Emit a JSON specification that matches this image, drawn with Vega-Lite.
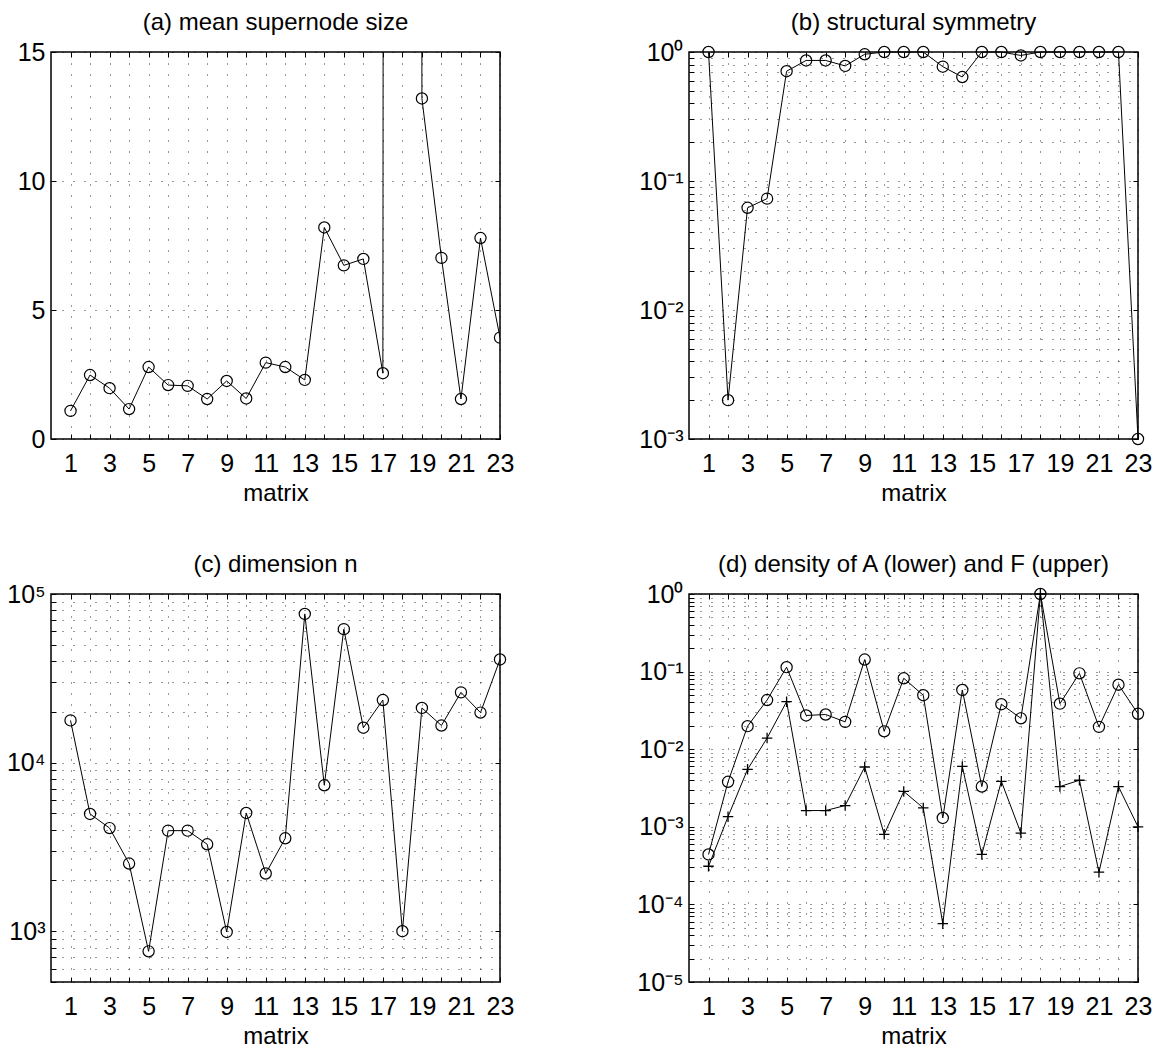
{
  "$schema": "https://vega.github.io/schema/vega-lite/v6.json",
  "background": "white",
  "padding": {"left": 5, "top": 10, "right": 0, "bottom": 0},
  "bounds": "flush",
  "columns": 2,
  "spacing": {"row": 155, "column": 189},
  "config": {
    "font": "Liberation Sans",
    "view": {"stroke": "black", "strokeWidth": 1.5},
    "title": {"fontSize": 24, "fontWeight": "normal", "color": "black", "offset": 5, "font": "Liberation Sans"},
    "axis": {
      "domain": false,
      "labelFont": "Liberation Sans",
      "labelFontSize": 25,
      "labelColor": "black",
      "titleFont": "Liberation Sans",
      "titleFontSize": 24,
      "titleFontWeight": "normal",
      "titleColor": "black",
      "grid": true,
      "gridColor": "black",
      "gridDash": [1, 10],
      "gridWidth": 1,
      "gridOpacity": 0.8,
      "tickColor": "black",
      "tickSize": -5,
      "tickWidth": 1,
      "labelFlush": false,
      "labelOverlap": false,
      "labelBound": false
    },
    "axisX": {"labelPadding": 17, "titlePadding": 5},
    "axisY": {"labelPadding": 11}
  },
  "datasets": {
    "m": [
      {"matrix": 1, "sn": 1.09, "sym": 1.0, "n": 17800, "dF": 0.00044, "dA": 0.00031},
      {"matrix": 2, "sn": 2.48, "sym": 0.002, "n": 4960, "dF": 0.0038, "dA": 0.00135},
      {"matrix": 3, "sn": 1.97, "sym": 0.062, "n": 4090, "dF": 0.0198, "dA": 0.0055},
      {"matrix": 4, "sn": 1.16, "sym": 0.073, "n": 2520, "dF": 0.043, "dA": 0.0139},
      {"matrix": 5, "sn": 2.79, "sym": 0.71, "n": 760, "dF": 0.114, "dA": 0.041},
      {"matrix": 6, "sn": 2.09, "sym": 0.86, "n": 3950, "dF": 0.0272, "dA": 0.00162},
      {"matrix": 7, "sn": 2.06, "sym": 0.86, "n": 3950, "dF": 0.028, "dA": 0.00162},
      {"matrix": 8, "sn": 1.55, "sym": 0.78, "n": 3280, "dF": 0.0225, "dA": 0.00188},
      {"matrix": 9, "sn": 2.25, "sym": 0.96, "n": 990, "dF": 0.143, "dA": 0.0059},
      {"matrix": 10, "sn": 1.57, "sym": 1.0, "n": 5030, "dF": 0.017, "dA": 0.0008},
      {"matrix": 11, "sn": 2.96, "sym": 1.0, "n": 2200, "dF": 0.082, "dA": 0.00286},
      {"matrix": 12, "sn": 2.79, "sym": 1.0, "n": 3560, "dF": 0.0496, "dA": 0.00175},
      {"matrix": 13, "sn": 2.29, "sym": 0.77, "n": 76200, "dF": 0.0013, "dA": 0.0000565},
      {"matrix": 14, "sn": 8.2, "sym": 0.64, "n": 7340, "dF": 0.058, "dA": 0.006},
      {"matrix": 15, "sn": 6.73, "sym": 1.0, "n": 61900, "dF": 0.0033, "dA": 0.00044},
      {"matrix": 16, "sn": 6.98, "sym": 1.0, "n": 16100, "dF": 0.038, "dA": 0.00386},
      {"matrix": 17, "sn": 2.55, "sym": 0.94, "n": 23500, "dF": 0.025, "dA": 0.00083},
      {"matrix": 18, "sn": 1000, "sym": 1.0, "n": 1000, "dF": 1.0, "dA": 1.0},
      {"matrix": 19, "sn": 13.2, "sym": 1.0, "n": 21100, "dF": 0.0386, "dA": 0.0033},
      {"matrix": 20, "sn": 7.02, "sym": 1.0, "n": 16600, "dF": 0.095, "dA": 0.00398},
      {"matrix": 21, "sn": 1.55, "sym": 1.0, "n": 26100, "dF": 0.0194, "dA": 0.00026},
      {"matrix": 22, "sn": 7.79, "sym": 1.0, "n": 19800, "dF": 0.0677, "dA": 0.0033},
      {"matrix": 23, "sn": 3.93, "sym": 0.001, "n": 40900, "dF": 0.0286, "dA": 0.001}
    ]
  },
  "concat": [
    {
      "width": 449, "height": 387,
      "title": "(a) mean supernode size",
      "data": {"name": "m"},
      "layer": [
        {
          "encoding": {
            "x": {"field": "matrix", "type": "quantitative",
                  "scale": {"domain": [0, 23], "nice": false, "zero": false},
                  "axis": {"orient": "bottom", "values": [1,2,3,4,5,6,7,8,9,10,11,12,13,14,15,16,17,18,19,20,21,22,23], "labelExpr": "datum.value % 2 == 1 ? datum.label : ''", "title": "matrix"}},
            "y": {"field": "sn", "type": "quantitative",
                  "scale": {"domain": [0, 15], "nice": false},
                  "axis": {"orient": "left", "values": [0, 5, 10, 15], "title": null}}
          },
          "layer": [
            {"mark": {"type": "line", "color": "black", "strokeWidth": 1, "clip": true}},
            {"mark": {"type": "point", "shape": "circle", "filled": false, "color": "black", "size": 125, "strokeWidth": 1.2, "opacity": 1, "clip": true}}
          ]
        },
        {
          "mark": {"type": "point", "opacity": 0, "clip": true},
          "encoding": {
            "x": {"field": "matrix", "type": "quantitative",
                  "axis": {"orient": "top", "values": [1,2,3,4,5,6,7,8,9,10,11,12,13,14,15,16,17,18,19,20,21,22,23], "labels": false, "grid": false, "title": null}},
            "y": {"field": "sn", "type": "quantitative",
                  "axis": {"orient": "right", "values": [0, 5, 10, 15], "labels": false, "grid": false, "title": null}}
          }
        }
      ],
      "resolve": {"axis": {"x": "independent", "y": "independent"}}
    },
    {
      "width": 449, "height": 387,
      "title": "(b) structural symmetry",
      "data": {"name": "m"},
      "layer": [
        {
          "encoding": {
            "x": {"field": "matrix", "type": "quantitative",
                  "scale": {"domain": [0, 23], "nice": false, "zero": false},
                  "axis": {"orient": "bottom", "values": [1,2,3,4,5,6,7,8,9,10,11,12,13,14,15,16,17,18,19,20,21,22,23], "labelExpr": "datum.value % 2 == 1 ? datum.label : ''", "title": "matrix"}},
            "y": {"field": "sym", "type": "quantitative",
                  "scale": {"type": "log", "domain": [0.001, 1], "nice": false},
                  "axis": {"orient": "left", "values": [0.001,0.002,0.003,0.004,0.005,0.006,0.007,0.008,0.009,0.01,0.02,0.03,0.04,0.05,0.06,0.07,0.08,0.09,0.1,0.2,0.3,0.4,0.5,0.6,0.7,0.8,0.9,1],
                           "labelExpr": "datum.value == 1 ? '10⁰' : datum.value == 0.1 ? '10⁻¹' : datum.value == 0.01 ? '10⁻²' : datum.value == 0.001 ? '10⁻³' : ''", "title": null}}
          },
          "layer": [
            {"mark": {"type": "line", "color": "black", "strokeWidth": 1}},
            {"mark": {"type": "point", "shape": "circle", "filled": false, "color": "black", "size": 125, "strokeWidth": 1.2, "opacity": 1}}
          ]
        },
        {
          "mark": {"type": "point", "opacity": 0},
          "encoding": {
            "x": {"field": "matrix", "type": "quantitative",
                  "axis": {"orient": "top", "values": [1,2,3,4,5,6,7,8,9,10,11,12,13,14,15,16,17,18,19,20,21,22,23], "labels": false, "grid": false, "title": null}},
            "y": {"field": "sym", "type": "quantitative",
                  "axis": {"orient": "right", "values": [0.001,0.01,0.1,1], "labels": false, "grid": false, "title": null}}
          }
        }
      ],
      "resolve": {"axis": {"x": "independent", "y": "independent"}}
    },
    {
      "width": 449, "height": 388,
      "title": "(c) dimension n",
      "data": {"name": "m"},
      "layer": [
        {
          "encoding": {
            "x": {"field": "matrix", "type": "quantitative",
                  "scale": {"domain": [0, 23], "nice": false, "zero": false},
                  "axis": {"orient": "bottom", "values": [1,2,3,4,5,6,7,8,9,10,11,12,13,14,15,16,17,18,19,20,21,22,23], "labelExpr": "datum.value % 2 == 1 ? datum.label : ''", "title": "matrix"}},
            "y": {"field": "n", "type": "quantitative",
                  "scale": {"type": "log", "domain": [500, 100000], "nice": false},
                  "axis": {"orient": "left", "values": [500,600,700,800,900,1000,2000,3000,4000,5000,6000,7000,8000,9000,10000,20000,30000,40000,50000,60000,70000,80000,90000,100000],
                           "labelExpr": "datum.value == 1000 ? '10³' : datum.value == 10000 ? '10⁴' : datum.value == 100000 ? '10⁵' : ''", "title": null}}
          },
          "layer": [
            {"mark": {"type": "line", "color": "black", "strokeWidth": 1}},
            {"mark": {"type": "point", "shape": "circle", "filled": false, "color": "black", "size": 125, "strokeWidth": 1.2, "opacity": 1}}
          ]
        },
        {
          "mark": {"type": "point", "opacity": 0},
          "encoding": {
            "x": {"field": "matrix", "type": "quantitative",
                  "axis": {"orient": "top", "values": [1,2,3,4,5,6,7,8,9,10,11,12,13,14,15,16,17,18,19,20,21,22,23], "labels": false, "grid": false, "title": null}},
            "y": {"field": "n", "type": "quantitative",
                  "axis": {"orient": "right", "values": [1000,10000,100000], "labels": false, "grid": false, "title": null}}
          }
        }
      ],
      "resolve": {"axis": {"x": "independent", "y": "independent"}}
    },
    {
      "width": 449, "height": 388,
      "title": "(d) density of A (lower) and F (upper)",
      "data": {"name": "m"},
      "layer": [
        {
          "encoding": {
            "x": {"field": "matrix", "type": "quantitative",
                  "scale": {"domain": [0, 23], "nice": false, "zero": false},
                  "axis": {"orient": "bottom", "values": [1,2,3,4,5,6,7,8,9,10,11,12,13,14,15,16,17,18,19,20,21,22,23], "labelExpr": "datum.value % 2 == 1 ? datum.label : ''", "title": "matrix"}}
          },
          "layer": [
            {"mark": {"type": "line", "color": "black", "strokeWidth": 1},
             "encoding": {"y": {"field": "dF", "type": "quantitative",
                  "scale": {"type": "log", "domain": [0.00001, 1], "nice": false},
                  "axis": {"orient": "left", "values": [0.00001,0.00002,0.00003,0.00004,0.00005,0.00006,0.00007,0.00008,0.00009,0.0001,0.0002,0.0003,0.0004,0.0005,0.0006,0.0007,0.0008,0.0009,0.001,0.002,0.003,0.004,0.005,0.006,0.007,0.008,0.009,0.01,0.02,0.03,0.04,0.05,0.06,0.07,0.08,0.09,0.1,0.2,0.3,0.4,0.5,0.6,0.7,0.8,0.9,1],
                           "labelExpr": "datum.value == 1 ? '10⁰' : datum.value == 0.1 ? '10⁻¹' : datum.value == 0.01 ? '10⁻²' : datum.value == 0.001 ? '10⁻³' : datum.value == 0.0001 ? '10⁻⁴' : datum.value == 0.00001 ? '10⁻⁵' : ''", "title": null}}}},
            {"mark": {"type": "point", "shape": "circle", "filled": false, "color": "black", "size": 125, "strokeWidth": 1.2, "opacity": 1},
             "encoding": {"y": {"field": "dF", "type": "quantitative"}}},
            {"mark": {"type": "line", "color": "black", "strokeWidth": 1},
             "encoding": {"y": {"field": "dA", "type": "quantitative"}}},
            {"mark": {"type": "point", "shape": "M-1,0L1,0M0,-1L0,1", "filled": false, "color": "black", "size": 110, "strokeWidth": 1.3, "opacity": 1},
             "encoding": {"y": {"field": "dA", "type": "quantitative"}}}
          ]
        },
        {
          "mark": {"type": "point", "opacity": 0},
          "encoding": {
            "x": {"field": "matrix", "type": "quantitative",
                  "axis": {"orient": "top", "values": [1,2,3,4,5,6,7,8,9,10,11,12,13,14,15,16,17,18,19,20,21,22,23], "labels": false, "grid": false, "title": null}},
            "y": {"field": "dF", "type": "quantitative",
                  "axis": {"orient": "right", "values": [0.00001,0.0001,0.001,0.01,0.1,1], "labels": false, "grid": false, "title": null}}
          }
        }
      ],
      "resolve": {"axis": {"x": "independent", "y": "independent"}}
    }
  ]
}
